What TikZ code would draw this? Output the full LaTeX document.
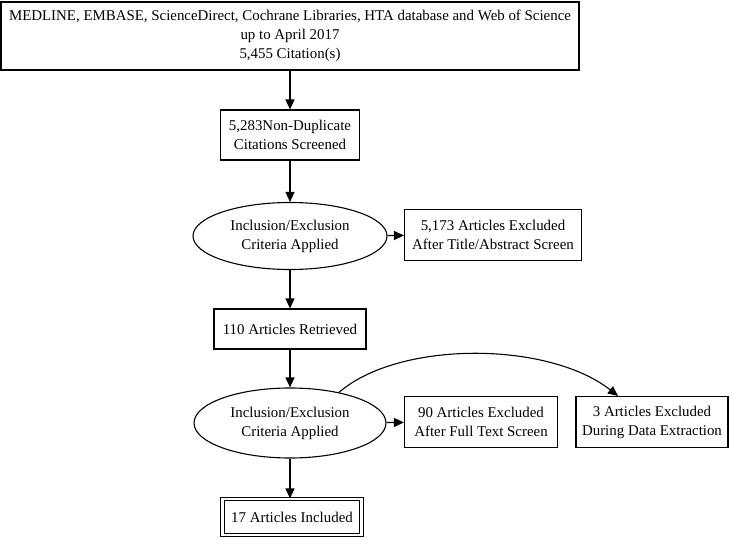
\documentclass[tikz,border=0pt]{standalone}
\usepackage{fontspec}
\setmainfont{Liberation Serif}
\usetikzlibrary{shapes.geometric, arrows.meta}

\begin{document}
\begin{tikzpicture}[x=1pt, y=-1pt,
    every node/.style={font=\fontsize{14.9}{19}\selectfont, align=center, inner sep=0pt},
    stepbox/.style={draw, line width=1.1pt, rectangle},
    critbox/.style={draw, line width=1.1pt, ellipse},
    flow/.style={line width=1.1pt, -{Triangle[length=10pt, width=9pt]}}]
    \useasboundingbox (0, 0) rectangle (732, 546);

    \node[stepbox, minimum width=578pt, minimum height=68pt] (search) at (290, 36)
        {MEDLINE, EMBASE, ScienceDirect, Cochrane Libraries, HTA database and Web of Science\\up to April 2017\\5,455 Citation(s)};
    \node[stepbox, minimum width=139pt, minimum height=50pt] (screened) at (290, 135)
        {5,283Non-Duplicate\\Citations Screened};
    \node[critbox, minimum width=194pt, minimum height=67pt] (crit1) at (290, 236)
        {Inclusion/Exclusion\\Criteria Applied};
    \node[stepbox, minimum width=177pt, minimum height=51pt] (excl1) at (493, 235)
        {5,173 Articles Excluded\\After Title/Abstract Screen};
    \node[stepbox, minimum width=152pt, minimum height=40pt] (retrieved) at (290, 329)
        {110 Articles Retrieved};
    \node[critbox, minimum width=192pt, minimum height=70pt] (crit2) at (290, 423)
        {Inclusion/Exclusion\\Criteria Applied};
    \node[stepbox, minimum width=153pt, minimum height=51pt] (excl2) at (481, 422)
        {90 Articles Excluded\\After Full Text Screen};
    \node[stepbox, minimum width=152pt, minimum height=51pt] (excl3) at (652, 422)
        {3 Articles Excluded\\During Data Extraction};
    \node[stepbox, double, double distance=2.6pt, minimum width=139pt, minimum height=36pt] (included) at (292, 517)
        {17 Articles Included};

    \draw[flow] (search) -- (screened);
    \draw[flow] (screened) -- (crit1);
    \draw[flow] (crit1) -- (excl1);
    \draw[flow] (crit1) -- (retrieved);
    \draw[flow] (retrieved) -- (crit2);
    \draw[flow] (crit2) -- (excl2);
    \draw[flow] (crit2.32) .. controls +(60, -52) and +(-70, -55) .. ([xshift=-34pt]excl3.north);
    \draw[flow] (crit2) -- (crit2 |- included.north);

\end{tikzpicture}
\end{document}
